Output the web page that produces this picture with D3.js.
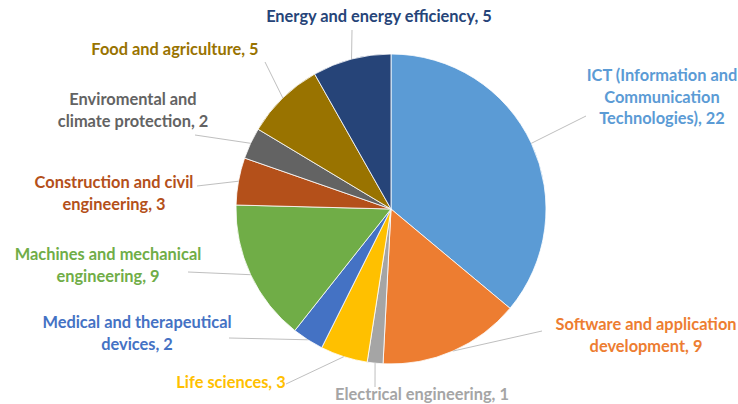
<!DOCTYPE html>
<html>
<head>
<meta charset="utf-8">
<script src="https://cdn.jsdelivr.net/npm/d3@7"></script>
<style>
  body { margin: 0; background: #fff; }
  svg { display: block; }
</style>
</head>
<body>
<div id="chart-container"></div>
<script>
const svgWidth = 738,
    svgHeight = 404,
    cx = 391,
    cy = 209,
    radius = 155;

// data
const categories = [
    ["ICT (Information and", "Communication", "Technologies), 22"],
    ["Software and application", "development, 9"],
    ["Electrical engineering, 1"],
    ["Life sciences, 3"],
    ["Medical and therapeutical", "devices, 2"],
    ["Machines and mechanical", "engineering, 9"],
    ["Construction and civil", "engineering, 3"],
    ["Enviromental and", "climate protection, 2"],
    ["Food and agriculture, 5"],
    ["Energy and energy efficiency, 5"]
];
const values = [22, 9, 1, 3, 2, 9, 3, 2, 5, 5];
const colors = ["#5b9bd5", "#ed7d31", "#a5a5a5", "#ffc000", "#4472c4",
    "#70ad47", "#b4501a", "#636363", "#997300", "#264478"];

// label layout: text centre x, first baseline y, leader start x, y
const labelLayout = [
    [662, 81, 586, 116],
    [646, 330, 542, 331],
    [422, 400, 375, 387],
    [231, 388, 286, 384],
    [137, 328, 229, 338],
    [108, 260, 188, 272],
    [114, 188, 197, 186],
    [133, 105, 195, 135],
    [175, 55, 265, 62],
    [379, 22, 352, 30]
];
const lineHeight = 21.5;

const svg = d3.select("#chart-container").append("svg")
    .attr("width", svgWidth)
    .attr("height", svgHeight);

const pie = d3.pie().sort(null).value((d) => d)(values);
const arc = d3.arc().innerRadius(0).outerRadius(radius);

const g = svg.append("g")
    .attr("transform", "translate(" + cx + "," + cy + ")");

g.selectAll("path")
    .data(pie)
    .join("path")
    .attr("d", arc)
    .attr("fill", (d, i) => colors[i])
    .attr("stroke", "#fff")
    .attr("stroke-width", 0.8);

// leader lines
const midAngle = (d) => (d.startAngle + d.endAngle) / 2;
svg.selectAll("line.leader")
    .data(pie)
    .join("line")
    .attr("class", "leader")
    .attr("x1", (d, i) => labelLayout[i][2])
    .attr("y1", (d, i) => labelLayout[i][3])
    .attr("x2", (d) => cx + radius * Math.sin(midAngle(d)))
    .attr("y2", (d) => cy - radius * Math.cos(midAngle(d)))
    .attr("stroke", "#bfbfbf")
    .attr("stroke-width", 1);

// labels
const labels = svg.selectAll("text.label")
    .data(pie)
    .join("text")
    .attr("class", "label")
    .attr("text-anchor", "middle")
    .attr("font-family", "Lato, 'Open Sans', sans-serif")
    .attr("font-weight", "bold")
    .attr("font-size", 16.4)
    .attr("fill", (d, i) => colors[i]);

labels.each(function (d, i) {
    const t = d3.select(this);
    categories[i].forEach((line, j) => {
        t.append("tspan")
            .attr("x", labelLayout[i][0])
            .attr("y", labelLayout[i][1] + j * lineHeight)
            .text(line);
    });
});
</script>
</body>
</html>
